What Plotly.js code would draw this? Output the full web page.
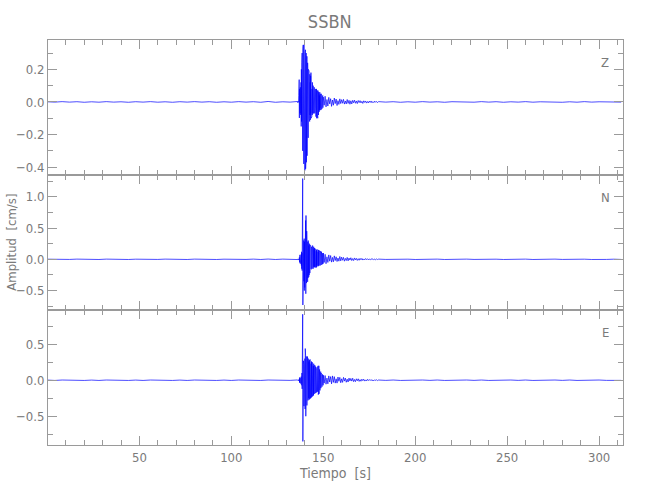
<!DOCTYPE html>
<html>
<head>
<meta charset="utf-8">
<script src="https://cdn.plot.ly/plotly-3.0.1.min.js"></script>
<style>html,body{margin:0;padding:0;background:#fff;}#chart{width:650px;height:500px;}</style>
</head>
<body>
<div id="chart"></div>
<script>
// ---- Data (station SSBN) ----
const stationName = "SSBN";
const componentLabels = ["Z", "N", "E"];

// Sampling of each segment: start time [s] and step [s]
const PRE_T0 = 0,     PRE_DT = 4;
const EVENT_T0 = 136, EVENT_DT = 0.1;
const CODA_T0 = 150,  CODA_DT = 0.5;
const POST_T0 = 180,  POST_DT = 4;

// Z component [cm/s]
const zPre = [0.001,-0.001,0.002,-0.001,0.0015,-0.002,0.001,-0.0015,0.002,-0.001,0.001,-0.002,0.0015,-0.001,0.002,-0.0015,0.001,-0.002,0.0015,-0.001,0.002,-0.001,0.0015,-0.002,0.001,-0.0015,0.002,-0.001,0.0015,-0.002,0.003,-0.002,0.001,-0.001];
const zEvent = [
 0.003,-0.004,0.002,-0.003,0.004,-0.002,0.003,
 0.04,-0.06,0.137,-0.098,0.08,-0.05,
 0.06,-0.07,0.09,-0.04,0.05,-0.08,0.12,
 -0.15,0.2,-0.12,0.24,-0.25,0.3,-0.2,0.28,-0.3,0.33,
 -0.27,0.35,-0.32,0.3,-0.38,0.35,-0.3,0.28,-0.4,0.33,
 -0.42,0.3,-0.36,0.32,-0.41,0.26,-0.34,0.3,-0.37,0.22,
 -0.3,0.28,-0.33,0.18,-0.27,0.24,-0.2,0.16,-0.22,0.2,
 -0.18,0.15,-0.13,0.19,-0.1,0.14,-0.12,0.17,-0.08,0.12,
 -0.11,0.16,-0.07,0.18,-0.1,0.1,-0.06,0.13,-0.09,0.08,
 -0.08,0.12,-0.05,0.09,-0.07,0.1,-0.04,0.08,-0.07,0.06,
 -0.06,0.09,-0.05,0.07,-0.07,0.05,-0.04,0.08,-0.06,0.05,
 -0.09,0.06,-0.05,0.08,-0.1,0.04,-0.06,0.07,-0.08,0.05,
 -0.1,0.07,-0.06,0.05,-0.08,0.06,-0.04,0.05,-0.06,0.04,
 -0.05,0.06,-0.04,0.05,-0.03,0.04,-0.05,0.03,-0.04,0.05,
 -0.045,0.04,-0.03,0.035,-0.04,0.03,-0.025,0.04,-0.035,0.03];
const zCoda = [
 0.03,-0.02,0.035,-0.03,0.015,-0.025,0.028,-0.012,0.02,-0.027,
 0.012,-0.02,0.024,-0.01,0.018,-0.022,0.008,-0.015,0.019,-0.01,
 0.014,-0.008,0.016,-0.013,0.006,-0.012,0.015,-0.009,0.01,-0.014,
 0.007,-0.012,0.01,-0.005,0.011,-0.008,0.006,-0.01,0.009,-0.004,
 0.008,-0.006,0.004,-0.009,0.007,-0.003,0.006,-0.007,0.003,-0.006,
 0.005,-0.003,0.006,-0.005,0.002,-0.004,0.005,-0.002,0.003,-0.004];
const zPost = [0.002,-0.001,0.0015,-0.002,0.001,-0.0015,0.002,-0.001,0.001,-0.002,0.0015,-0.001,0.001,-0.0015,0.002,-0.001,0.0015,-0.002,0.001,-0.001,0.002,-0.0015,0.001,-0.001,0.0015,-0.002,0.001,-0.0015,0.002,-0.001,0.001,-0.001,0.001,-0.001];

// N component [cm/s]
const nPre = [0.002,-0.003,0.003,-0.002,0.003,-0.003,0.002,-0.003,0.003,-0.002,0.003,-0.003,0.002,-0.003,0.003,-0.002,0.003,-0.003,0.002,-0.003,0.003,-0.002,0.003,-0.003,0.002,-0.003,0.003,-0.002,0.003,-0.003,0.004,-0.003,0.003,-0.002];
const nEvent = [
 0.005,-0.004,0.006,-0.005,0.004,-0.006,0.005,-0.004,0.006,-0.005,
 0.03,-0.05,0.07,-0.04,0.06,-0.07,0.05,-0.06,0.04,-0.05,
 0.08,-0.1,0.12,-0.15,0.1,-0.18,0.2,-0.12,1.29,-0.73,
 0.25,-0.3,0.2,-0.42,0.3,-0.35,0.33,-0.5,0.28,-0.45,
 0.4,-0.3,0.5,-0.42,0.62,-0.55,0.7,-0.4,0.66,-0.38,
 0.45,-0.35,0.38,-0.3,0.33,-0.36,0.28,-0.3,0.3,-0.25,
 0.26,-0.28,0.22,-0.25,0.25,-0.2,0.2,-0.22,0.23,-0.18,
 0.2,-0.17,0.22,-0.15,0.18,-0.16,0.2,-0.12,0.17,-0.15,
 0.19,-0.13,0.22,-0.14,0.16,-0.15,0.18,-0.11,0.2,-0.12,
 0.16,-0.13,0.18,-0.1,0.15,-0.12,0.17,-0.13,0.14,-0.1,
 0.17,-0.12,0.13,-0.13,0.15,-0.09,0.16,-0.11,0.12,-0.1,
 0.14,-0.1,0.12,-0.11,0.15,-0.08,0.13,-0.1,0.11,-0.09,
 0.14,-0.09,0.12,-0.1,0.1,-0.08,0.13,-0.07,0.11,-0.09,
 0.12,-0.08,0.1,-0.07,0.11,-0.08,0.09,-0.06,0.1,-0.07];
const nCoda = [
 0.1,-0.05,0.08,-0.07,0.04,-0.05,0.07,-0.03,0.06,-0.045,
 0.03,-0.04,0.055,-0.02,0.04,-0.035,0.02,-0.03,0.045,-0.025,
 0.035,-0.015,0.03,-0.03,0.015,-0.02,0.03,-0.025,0.02,-0.012,
 0.025,-0.02,0.012,-0.02,0.022,-0.01,0.015,-0.018,0.01,-0.015,
 0.015,-0.008,0.014,-0.012,0.006,-0.01,0.012,-0.005,0.01,-0.009,
 0.006,-0.008,0.009,-0.004,0.008,-0.007,0.004,-0.007,0.006,-0.004];
const nPost = [0.003,-0.002,0.003,-0.003,0.002,-0.003,0.003,-0.002,0.003,-0.003,0.002,-0.003,0.003,-0.002,0.003,-0.003,0.002,-0.003,0.003,-0.002,0.003,-0.003,0.002,-0.003,0.003,-0.002,0.003,-0.003,0.002,-0.003,0.003,-0.002,0.002,-0.002];

// E component [cm/s]
const ePre = [0.002,-0.003,0.003,-0.002,0.003,-0.003,0.002,-0.003,0.003,-0.002,0.003,-0.003,0.002,-0.003,0.003,-0.002,0.003,-0.003,0.002,-0.003,0.003,-0.002,0.003,-0.003,0.002,-0.003,0.003,-0.002,0.003,-0.003,0.003,-0.002,0.003,-0.002];
const eEvent = [
 0.004,-0.005,0.003,-0.004,0.005,-0.003,0.004,-0.005,0.003,-0.004,
 0.02,-0.03,0.04,-0.035,0.03,-0.04,0.035,-0.03,0.04,-0.045,
 0.05,-0.06,0.08,-0.07,0.1,-0.12,0.15,-0.1,0.917,-0.85,
 0.2,-0.25,0.27,-0.3,0.22,-0.36,0.29,-0.28,0.26,-0.33,
 0.3,-0.4,0.44,-0.35,0.34,-0.5,0.3,-0.45,0.33,-0.38,
 0.31,-0.35,0.28,-0.3,0.33,-0.31,0.27,-0.28,0.3,-0.26,
 0.29,-0.25,0.26,-0.27,0.28,-0.22,0.25,-0.26,0.29,-0.23,
 0.24,-0.25,0.27,-0.2,0.23,-0.24,0.26,-0.21,0.22,-0.23,
 0.25,-0.2,0.22,-0.22,0.24,-0.18,0.2,-0.21,0.23,-0.19,
 0.2,-0.19,0.18,-0.17,0.21,-0.16,0.17,-0.18,0.19,-0.15,
 0.17,-0.16,0.15,-0.17,0.16,-0.14,0.18,-0.15,0.17,-0.16,
 0.19,-0.18,0.2,-0.2,0.18,-0.17,0.2,-0.19,0.17,-0.16,
 0.15,-0.13,0.12,-0.14,0.11,-0.1,0.12,-0.11,0.1,-0.09,
 0.09,-0.08,0.08,-0.09,0.07,-0.08,0.08,-0.07,0.06,-0.07];
const eCoda = [
 0.07,-0.04,0.065,-0.055,0.03,-0.05,0.06,-0.025,0.05,-0.05,
 0.06,-0.03,0.05,-0.04,0.02,-0.04,0.045,-0.015,0.04,-0.035,
 0.02,-0.03,0.04,-0.012,0.03,-0.028,0.015,-0.025,0.03,-0.01,
 0.025,-0.012,0.028,-0.02,0.01,-0.02,0.02,-0.008,0.02,-0.016,
 0.008,-0.014,0.015,-0.006,0.014,-0.012,0.005,-0.011,0.012,-0.005,
 0.01,-0.004,0.009,-0.008,0.003,-0.008,0.007,-0.003,0.006,-0.005];
const ePost = [0.003,-0.002,0.003,-0.003,0.002,-0.003,0.003,-0.002,0.003,-0.003,0.002,-0.003,0.003,-0.002,0.003,-0.003,0.002,-0.003,0.003,-0.002,0.003,-0.003,0.002,-0.003,0.003,-0.002,0.003,-0.003,0.002,-0.003,0.003,-0.002,0.002,-0.002];

// ---- Build traces (times come from each segment's start and sampling step) ----
function assemble(segments) {
  const x = [], y = [];
  segments.forEach(([t0, dt, vals]) => {
    vals.forEach((v, i) => { x.push(+(t0 + i * dt).toFixed(3)); y.push(v); });
  });
  return {x, y};
}
function series(pre, ev, coda, post) {
  return assemble([[PRE_T0, PRE_DT, pre], [EVENT_T0, EVENT_DT, ev], [CODA_T0, CODA_DT, coda], [POST_T0, POST_DT, post]]);
}
const sZ = series(zPre, zEvent, zCoda, zPost);
const sN = series(nPre, nEvent, nCoda, nPost);
const sE = series(ePre, eEvent, eCoda, ePost);

const lineStyle = {color: '#0000ff', width: 0.7};
const traces = [
  {x: sZ.x, y: sZ.y, xaxis: 'x3', yaxis: 'y3', type: 'scatter', mode: 'lines', line: lineStyle, name: componentLabels[0]},
  {x: sN.x, y: sN.y, xaxis: 'x2', yaxis: 'y2', type: 'scatter', mode: 'lines', line: lineStyle, name: componentLabels[1]},
  {x: sE.x, y: sE.y, xaxis: 'x',  yaxis: 'y',  type: 'scatter', mode: 'lines', line: lineStyle, name: componentLabels[2]}
];

const axisColor = '#9a9a9a';
const textColor = '#7a7a7a';
const fontFam = '"Liberation Sans Narrow", "DejaVu Sans Condensed", "Liberation Sans", sans-serif';

function xAxis(anchor, showLabels) {
  return {
    anchor: anchor, range: [0.3, 313], domain: [0, 1],
    showgrid: false, zeroline: false, showline: true, linecolor: axisColor, linewidth: 1,
    mirror: 'allticks', ticks: 'inside', ticklen: 9, tickcolor: axisColor, tickwidth: 1,
    tick0: 0, dtick: 50, showticklabels: showLabels,
    minor: {ticks: 'inside', dtick: 10, tick0: 0, ticklen: 5, tickcolor: axisColor, tickwidth: 1, showgrid: false},
    tickfont: {family: fontFam, size: 13, color: textColor}
  };
}
function yAxis(anchor, domain, range, major, minor) {
  return {
    anchor: anchor, domain: domain, range: range,
    showgrid: false, zeroline: false, showline: true, linecolor: axisColor, linewidth: 1,
    mirror: 'allticks', ticks: 'inside', ticklen: 9, tickcolor: axisColor, tickwidth: 1,
    tick0: 0, dtick: major, tickformat: '.1f',
    minor: {ticks: 'inside', dtick: minor, tick0: 0, ticklen: 5, tickcolor: axisColor, tickwidth: 1, showgrid: false},
    tickfont: {family: fontFam, size: 13, color: textColor}
  };
}

const xa1 = xAxis('y', true);
xa1.title = {text: 'Tiempo  [s]', font: {family: fontFam, size: 14, color: textColor}, standoff: 4};
const xa2 = xAxis('y2', false); xa2.matches = 'x';
const xa3 = xAxis('y3', false); xa3.matches = 'x';

const labelFont = {family: fontFam, size: 13, color: textColor};
const layout = {
  width: 650, height: 500, autosize: false,
  margin: {l: 48, r: 27, t: 40, b: 55},
  paper_bgcolor: '#ffffff', plot_bgcolor: '#ffffff',
  showlegend: false,
  title: {text: stationName, font: {family: fontFam, size: 18, color: textColor}, x: 0.49, xref: 'paper', xanchor: 'center', y: 0.956, yanchor: 'middle'},
  xaxis: xa1, xaxis2: xa2, xaxis3: xa3,
  yaxis:  yAxis('x',  [0, 1/3],   [-0.9, 0.976], 0.5, 0.25),
  yaxis2: yAxis('x2', [1/3, 2/3], [-0.81, 1.347], 0.5, 0.25),
  yaxis3: yAxis('x3', [2/3, 1],   [-0.448, 0.38], 0.2, 0.1),
  annotations: [
    {text: componentLabels[0], xref: 'paper', yref: 'paper', x: 0.969, y: 1 - 22/405, xanchor: 'center', yanchor: 'middle', showarrow: false, font: labelFont},
    {text: componentLabels[1], xref: 'paper', yref: 'paper', x: 0.969, y: 2/3 - 22/405, xanchor: 'center', yanchor: 'middle', showarrow: false, font: labelFont},
    {text: componentLabels[2], xref: 'paper', yref: 'paper', x: 0.969, y: 1/3 - 22/405, xanchor: 'center', yanchor: 'middle', showarrow: false, font: labelFont},
    {text: 'Amplitud  [cm/s]', xref: 'paper', yref: 'paper', x: -0.064, y: 0.5, xanchor: 'center', yanchor: 'middle', textangle: -90, showarrow: false, font: {family: fontFam, size: 13, color: textColor}}
  ]
};

Plotly.newPlot('chart', traces, layout, {staticPlot: true, displayModeBar: false});
</script>
</body>
</html>
